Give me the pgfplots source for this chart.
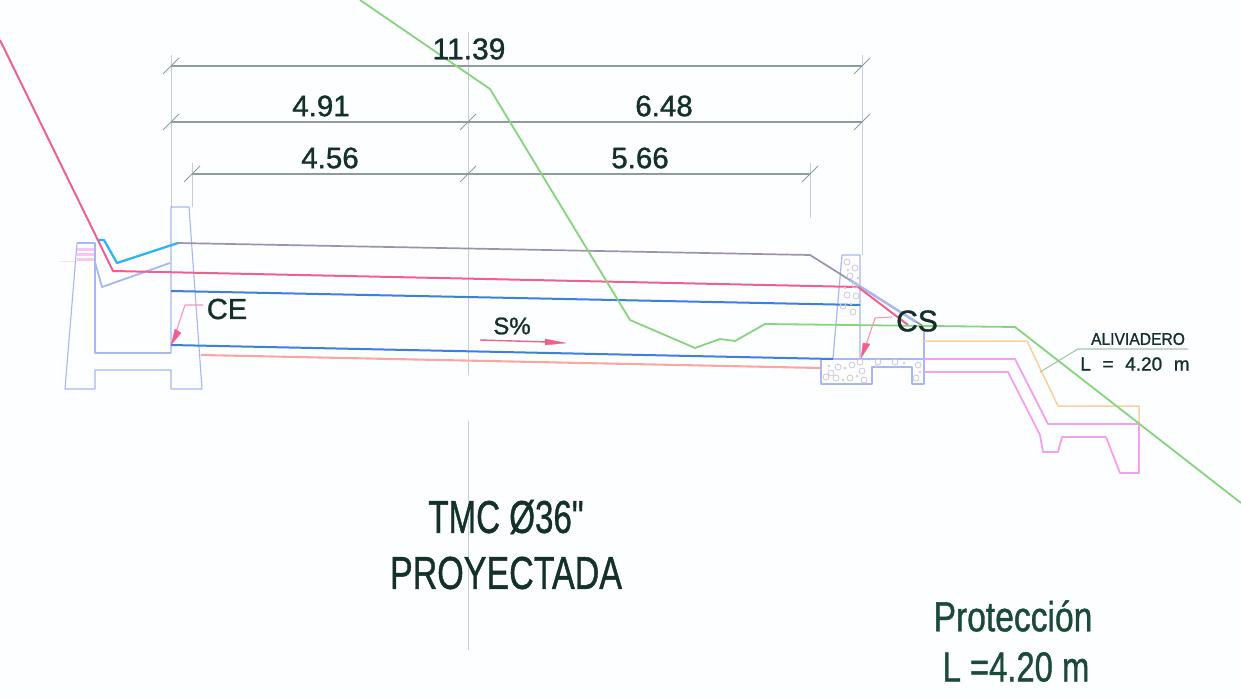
\documentclass[border=0pt]{standalone}
\usepackage{pgfplots}
\pgfplotsset{compat=1.18}
\usepackage{fontspec}
\setmainfont[FakeBold=1.1]{Liberation Sans}
\newfontfamily\nomap[FakeBold=1.1]{Liberation Sans}
\definecolor{txt}{HTML}{14302A}
\definecolor{prot}{HTML}{1C4A38}
\definecolor{struct}{HTML}{A8B6F2}
\definecolor{dim}{HTML}{8E9C9C}
\definecolor{ext}{HTML}{C4CEDA}
\definecolor{gline}{HTML}{86D47E}
\definecolor{rline}{HTML}{F0608C}
\definecolor{bline}{HTML}{3C80DC}
\definecolor{cyanl}{HTML}{30B4F0}
\definecolor{greyp}{HTML}{9C92B0}
\definecolor{orangel}{HTML}{FAD09A}
\definecolor{magl}{HTML}{F4A0EE}
\definecolor{salmon}{HTML}{F8A8A0}
\definecolor{paper}{HTML}{FDFEFF}
\begin{document}
\begin{tikzpicture}
\begin{axis}[
  scale only axis, width=1241pt, height=698pt,
  xmin=0, xmax=1241, ymin=0, ymax=698, y dir=reverse,
  axis line style={draw=none}, ticks=none, clip=true,
  axis background/.style={fill=paper},
  every axis plot/.append style={line join=round},
]
% extension lines
\addplot[ext,line width=.9pt] coordinates {(171,55)(171,207)};
\addplot[ext,line width=.9pt] coordinates {(192,163)(192,207)};
\addplot[ext,line width=.9pt] coordinates {(468,32)(468,375)};
\addplot[ext,line width=.9pt] coordinates {(468,421)(468,650)};
\addplot[ext,line width=.9pt] coordinates {(862,55)(862,255)};
\addplot[ext,line width=.9pt] coordinates {(810,163)(810,218)};
% dimension lines
\addplot[dim,line width=1.2pt] coordinates {(171,66)(862,66)};
\addplot[dim,line width=1.2pt] coordinates {(171,122)(862,122)};
\addplot[dim,line width=1.2pt] coordinates {(192,174)(810,174)};
\addplot[dim,line width=1pt] coordinates {(163,74)(179,58)};
\addplot[dim,line width=1pt] coordinates {(854,74)(870,58)};
\addplot[dim,line width=1pt] coordinates {(163,130)(179,114)};
\addplot[dim,line width=1pt] coordinates {(460,130)(476,114)};
\addplot[dim,line width=1pt] coordinates {(854,130)(870,114)};
\addplot[dim,line width=1pt] coordinates {(184,182)(200,166)};
\addplot[dim,line width=1pt] coordinates {(460,182)(476,166)};
\addplot[dim,line width=1pt] coordinates {(802,182)(818,166)};
% left structure
\addplot[magl!60,line width=3pt] coordinates {(77,249)(95,249)};
\addplot[magl!60,line width=3pt] coordinates {(77,254)(95,254)};
\addplot[magl!60,line width=3pt] coordinates {(77,259)(95,259)};
\addplot[magl!35,line width=1pt] coordinates {(60,261)(77,261)};
\addplot[struct,line width=1.1pt] coordinates {(77,243)(95,243)(95,353)(171,353)};
\addplot[struct,line width=1.1pt] coordinates {(77,243)(65,389)(95,389)(95,370)(171,370)(171,389)(202,389)(189,207)(171,207)(171,353)};
\addplot[struct,line width=1.8pt] coordinates {(95,262)(102,287)(170,263)};
% right structure
\addplot[struct,line width=1.2pt] coordinates {(833,358)(842,255)(860,255)(860,358)};
\addplot[struct,line width=1.2pt] coordinates {(821,359)(821,384)(872,384)(872,367)(912,367)(912,384)(924,384)(924,330)};
\addplot[struct,line width=1.2pt] coordinates {(821,359)(924,359)};
% concrete speckle
\addplot[only marks,mark=o,mark size=3pt,greyp!50,mark options={line width=.8pt}] coordinates {
 (847,262)(855,268)(850,276)(855,285)(847,295)(856,296)(843,306)(853,312)
 (831,373)(838,367)(826,377)(852,365)(862,371)(836,378)(864,380)(878,362)(918,365)(916,378)(860,362)(895,362)(850,378)};
\addplot[only marks,mark=*,mark size=1.2pt,greyp!45] coordinates {
 (848,270)(858,278)(845,288)(851,304)(845,368)(857,376)(829,366)(843,380)(876,366)(904,363)(920,372)};
% main lines
\addplot[greyp,line width=1.7pt] coordinates {(178,243)(810,255)(923,326)};
\addplot[struct,line width=2.4pt] coordinates {(850,280)(916,322)};
\addplot[rline,line width=2pt] coordinates {(0,40)(113,271)(858,287)(908,325)};
\addplot[cyanl,line width=2.3pt] coordinates {(98,240)(104,240)(117,263)(178,243)};
\addplot[bline,line width=2pt] coordinates {(171,291)(860,305)};
\addplot[bline,line width=2pt] coordinates {(171,345)(833,359)};
\addplot[salmon,line width=2.1pt] coordinates {(201,355)(821,368)};
\addplot[orangel,line width=1.5pt] coordinates {(924,341)(1027,341)(1058,406)(1139,406)(1139,425)};
\addplot[magl,line width=1.8pt] coordinates {(924,359)(1015,359)(1048,424)(1139,424)(1139,473)(1120,473)(1106,437)(1062,437)(1058,452)(1043,452)(1040,435)(1008,372)(924,372)};
\addplot[gline,line width=1.8pt] coordinates {(360,0)(490,89)(630,320)(695,348)(720,339)(735,341)(765,324)(1015,327)(1241,503)};
% leaders and arrows
\addplot[gline!55!gray!70,line width=1.1pt] coordinates {(1040,372)(1078,349)(1188,349)};
\addplot[rline!65,line width=1.1pt] coordinates {(203,305)(185,305)(175,335)};
\addplot[rline!65,line width=1.1pt] coordinates {(892,317)(875,318)(865,348)};
\addplot[rline,fill=rline,line width=.3pt] coordinates {(171,345)(175,329)(181,333)} -- cycle;
\addplot[rline,fill=rline,line width=.3pt] coordinates {(861,358)(863,343)(870,344)} -- cycle;
\addplot[rline,line width=1.4pt] coordinates {(480,340)(548,342)};
\addplot[rline,fill=rline,line width=.3pt] coordinates {(566,343)(545,339)(545,345)} -- cycle;
% text
\node[txt,font=\fontsize{30}{30}\selectfont] at (axis cs:469,49) {11.39};
\node[txt,font=\fontsize{29.5}{30}\selectfont] at (axis cs:321,106) {4.91};
\node[txt,font=\fontsize{29.5}{30}\selectfont] at (axis cs:664,106) {6.48};
\node[txt,font=\fontsize{29.5}{30}\selectfont] at (axis cs:330,158) {4.56};
\node[txt,font=\fontsize{29.5}{30}\selectfont] at (axis cs:640,158) {5.66};
\node[txt,font=\fontsize{29}{29}\selectfont] at (axis cs:227,309) {CE};
\node[txt,font=\fontsize{30}{30}\selectfont] at (axis cs:917,321) {CS};
\node[txt,font=\fontsize{24}{24}\selectfont] at (axis cs:512,326) {S\%};
\node[txt,font=\fontsize{17}{17}\selectfont,xscale=.92] at (axis cs:1138,339) {ALIVIADERO};
\node[txt,font=\fontsize{19}{19}\selectfont] at (axis cs:1135,364) {L\,\, =\,\, 4.20\,\, m};
\node[txt,font=\fontsize{46}{46}\selectfont,xscale=.72] at (axis cs:506,517) {\nomap TMC Ø36"};
\node[txt,font=\fontsize{46}{46}\selectfont,xscale=.74] at (axis cs:506,573) {PROYECTADA};
\node[prot,font=\fontsize{42}{42}\selectfont,xscale=.8] at (axis cs:1013,616) {Protección};
\node[prot,font=\fontsize{42}{42}\selectfont,xscale=.78] at (axis cs:1016,667) {L =4.20 m};
\end{axis}
\end{tikzpicture}
\end{document}
